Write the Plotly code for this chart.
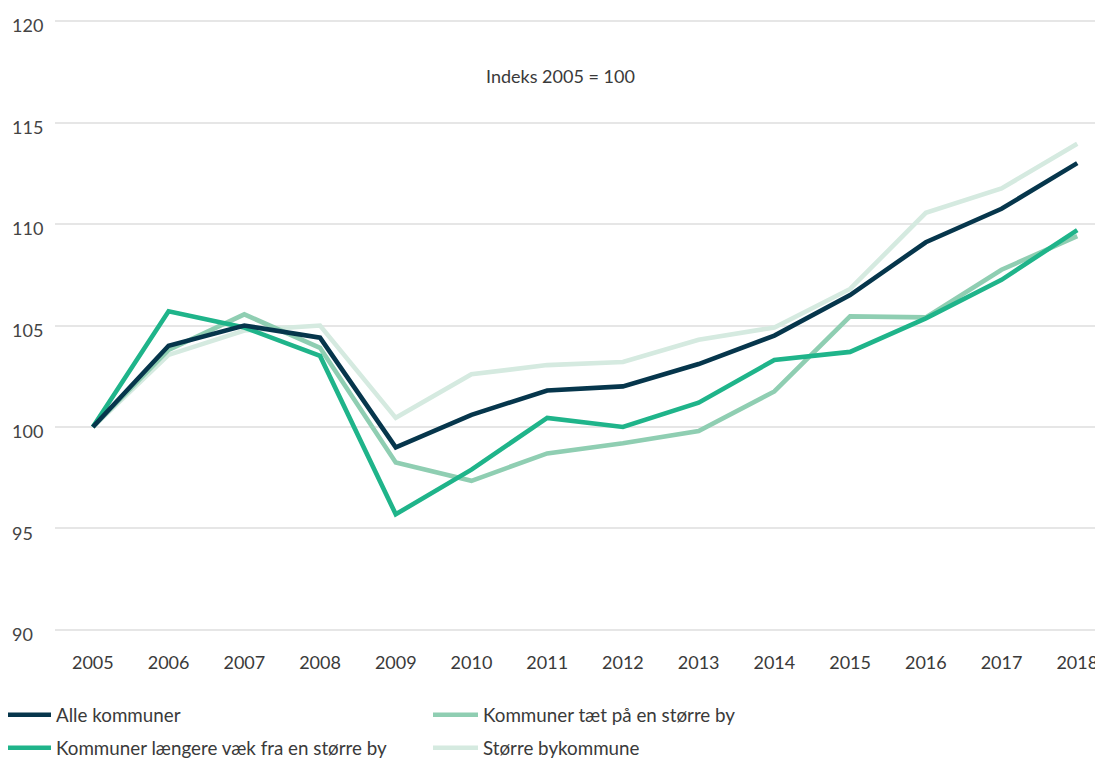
import plotly.graph_objects as go

years = list(range(2005, 2019))

alle = [100, 104.0, 105.0, 104.4, 99.0, 100.6, 101.8, 102.0, 103.1, 104.5, 106.5, 109.1, 110.75, 113.0]
laengere = [100, 105.7, 104.9, 103.5, 95.7, 97.9, 100.45, 100.0, 101.2, 103.3, 103.7, 105.35, 107.25, 109.7]
taet = [100, 103.8, 105.55, 103.9, 98.25, 97.35, 98.7, 99.2, 99.8, 101.75, 105.45, 105.4, 107.75, 109.4]
stoerre = [100, 103.55, 104.75, 105.0, 100.45, 102.6, 103.05, 103.2, 104.3, 104.9, 106.8, 110.55, 111.75, 113.95]

names = ["Alle kommuner", "Kommuner tæt på en større by",
         "Kommuner længere væk fra en større by", "Større bykommune"]
colors = ["#06364c", "#8fceb2", "#1fb48a", "#d5eae0"]
series = [alle, taet, laengere, stoerre]
legend_ids = ["legend", "legend", "legend2", "legend2"]
draw_order = [3, 1, 2, 0]

y_ticks = [90, 95, 100, 105, 110, 115, 120]
note = "Indeks 2005 = 100"

W, H = 1095, 750  # page body adds an 8px offset

fig = go.Figure()
for i in draw_order:
    fig.add_trace(go.Scatter(
        x=years, y=series[i], name=names[i], mode="lines",
        line=dict(color=colors[i], width=4.6),
        legend=legend_ids[i], legendrank=i,
    ))

legend_common = dict(
    orientation="h", xref="container", yref="container",
    x=0.0, xanchor="left", yanchor="middle",
    entrywidth=374, entrywidthmode="pixels", indentation=-7,
    font=dict(size=18.8, color="#3a3a3a"),
    traceorder="normal", itemwidth=45, bgcolor="rgba(0,0,0,0)",
)

fig.update_layout(
    width=W, height=H,
    margin=dict(l=47, r=0, t=12, b=127, autoexpand=False),
    paper_bgcolor="white", plot_bgcolor="white",
    font=dict(family="Lato", size=18, color="#3a3a3a"),
    showlegend=True,
    legend=dict(legend_common, y=(H - 707) / H),
    legend2=dict(legend_common, y=(H - 740) / H),
    annotations=[dict(
        text=note, xref="x", yref="y", x=2011.17, y=117.3,
        xanchor="center", yanchor="middle",
        showarrow=False, font=dict(size=18, color="#3a3a3a"),
    )],
)
fig.update_xaxes(
    range=[2004.5, 2018.34], tickvals=years, ticktext=[str(y) for y in years],
    showgrid=False, zeroline=False, showline=False, ticks="",
    ticklabelstandoff=19, automargin=False,
)
fig.update_yaxes(
    range=[89.95, 120.05], tickvals=y_ticks, showgrid=True, gridcolor="#e6e6e6",
    gridwidth=1.5, zeroline=False, showline=False, ticks="",
    ticklabelposition="inside", ticklabelstandoff=-46, ticklabelshift=5,
    ticklabeloverflow="allow", automargin=False,
)

fig.write_html("out.html")
